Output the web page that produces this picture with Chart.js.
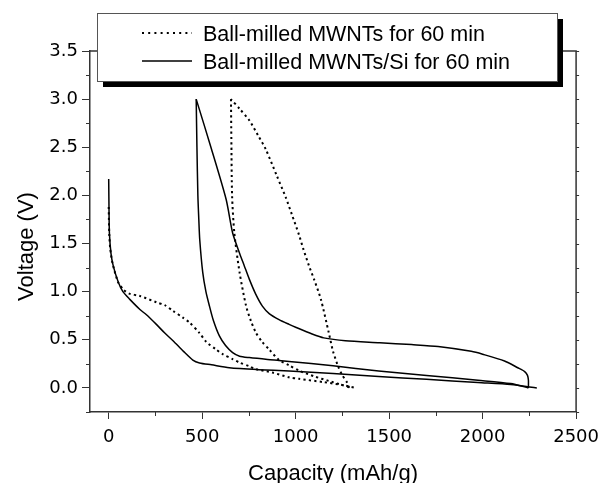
<!DOCTYPE html>
<html>
<head>
<meta charset="utf-8">
<script src="https://cdn.jsdelivr.net/npm/chart.js@4.4.1/dist/chart.umd.min.js"></script>
<style>
  html, body { margin: 0; padding: 0; background: #fff; }
</style>
</head>
<body>
<canvas id="voltChart" width="607" height="483"></canvas>
<script>
// series names
const seriesLabels = ['Ball-milled MWNTs for 60 min', 'Ball-milled MWNTs/Si for 60 min'];

// Ball-milled MWNTs (dotted) - first discharge
const cntDis1Cap = [0, 3, 8, 20, 50, 80, 110, 167, 255, 300, 344, 397, 432, 486, 521, 574, 610, 663, 698, 752, 787, 876, 965, 1018, 1150, 1250, 1319];
const cntDis1V = [1.88, 1.6, 1.45, 1.3, 1.1, 1.02, 0.98, 0.955, 0.89, 0.86, 0.8, 0.73, 0.68, 0.57, 0.48, 0.4, 0.35, 0.3, 0.265, 0.225, 0.195, 0.16, 0.11, 0.095, 0.06, 0.03, 0.0];
// charge
const cntChgCap = [1285, 1275, 1250, 1230, 1200, 1177, 1135, 1100, 1071, 1040, 1018, 980, 947, 900, 840, 800, 752, 700, 654];
const cntChgV = [0.0, 0.056, 0.13, 0.21, 0.38, 0.575, 0.92, 1.12, 1.27, 1.45, 1.59, 1.8, 1.98, 2.2, 2.48, 2.62, 2.78, 2.9, 3.0];
// second discharge
const cntDis2Cap = [654, 656, 660, 672, 700, 735, 760, 787, 820, 858, 911, 965, 1018, 1100, 1177, 1250, 1300];
const cntDis2V = [3.0, 2.6, 2.0, 1.61, 1.2, 0.85, 0.7, 0.575, 0.48, 0.4, 0.29, 0.235, 0.18, 0.12, 0.073, 0.03, 0.0];

// Ball-milled MWNTs/Si (solid) - first discharge
const siDis1Cap = [0, 2, 4, 12, 24, 51, 76, 113, 167, 202, 255, 300, 344, 400, 450, 486, 550, 645, 800, 965, 1200, 1444, 1700, 1975, 2150, 2290];
const siDis1V = [2.17, 1.8, 1.6, 1.4, 1.27, 1.1, 1.0, 0.92, 0.815, 0.76, 0.66, 0.57, 0.49, 0.38, 0.29, 0.26, 0.24, 0.21, 0.19, 0.176, 0.15, 0.118, 0.09, 0.056, 0.035, 0.0];
// charge
const siChgCap = [2245, 2245, 2240, 2225, 2188, 2117, 2000, 1939, 1762, 1620, 1450, 1266, 1150, 1088, 1000, 965, 911, 860, 822, 785, 752, 725, 700, 663, 628, 550, 468];
const siChgV = [0.0, 0.08, 0.13, 0.17, 0.21, 0.28, 0.35, 0.38, 0.43, 0.45, 0.47, 0.49, 0.52, 0.56, 0.63, 0.66, 0.71, 0.77, 0.85, 0.98, 1.13, 1.27, 1.4, 1.61, 1.96, 2.48, 3.0];
// second discharge
const siDis2Cap = [468, 472, 477, 482, 487, 503, 520, 539, 560, 592, 625, 663, 700, 752, 850, 911, 965, 1200, 1444, 1700, 1975, 2150, 2245];
const siDis2V = [3.0, 2.5, 2.0, 1.75, 1.54, 1.2, 1.0, 0.85, 0.7, 0.54, 0.44, 0.367, 0.33, 0.315, 0.295, 0.285, 0.275, 0.23, 0.176, 0.13, 0.08, 0.045, 0.0];

// ticks
const xMajor = [0, 500, 1000, 1500, 2000, 2500];
const xMinor = [250, 750, 1250, 1750, 2250];
const yMajor = [0, 0.5, 1.0, 1.5, 2.0, 2.5, 3.0, 3.5];
const yMinor = [-0.25, 0.25, 0.75, 1.25, 1.75, 2.25, 2.75, 3.25];

const axisColor = '#333';
const dotDash = [2.2, 3.2];
const tickFont = { family: 'DejaVu Sans', size: 18 };

function pts(caps, volts) {
    return caps.map((c, i) => ({ x: c, y: volts[i] }));
}

function curve(label, caps, volts, dotted) {
    return {
        label: label,
        data: pts(caps, volts),
        showLine: true,
        borderColor: '#000',
        borderWidth: dotted ? 2 : 1.5,
        borderDash: dotted ? dotDash : [],
        borderCapStyle: 'butt',
        pointRadius: 0,
        fill: false,
        tension: 0.25
    };
}

// top/right frame, minor ticks, axis titles
const framePlugin = {
    id: 'framePlugin',
    afterDraw(chart) {
        const { ctx, chartArea: a, scales: { x, y } } = chart;
        ctx.save();
        ctx.strokeStyle = axisColor;
        ctx.lineWidth = 1.5;
        ctx.beginPath();
        ctx.moveTo(a.left, a.top);
        ctx.lineTo(a.right, a.top);
        ctx.lineTo(a.right, a.bottom);
        ctx.stroke();

        ctx.lineWidth = 1;
        ctx.beginPath();
        xMinor.forEach(v => {
            const px = Math.round(x.getPixelForValue(v)) + 0.5;
            ctx.moveTo(px, a.bottom);
            ctx.lineTo(px, a.bottom + 4);
        });
        yMinor.forEach(v => {
            const py = Math.round(y.getPixelForValue(v)) + 0.5;
            ctx.moveTo(a.left, py);
            ctx.lineTo(a.left - 4, py);
        });
        yMajor.concat(yMinor).forEach(v => {
            const py = Math.round(y.getPixelForValue(v)) + 0.5;
            ctx.moveTo(a.right, py);
            ctx.lineTo(a.right + 3, py);
        });
        ctx.stroke();

        // axis titles
        ctx.fillStyle = '#000';
        ctx.font = '22px "Liberation Sans", Arial, sans-serif';
        ctx.textAlign = 'center';
        ctx.textBaseline = 'alphabetic';
        ctx.fillText('Capacity (mAh/g)', (a.left + a.right) / 2, 480);
        ctx.translate(33, 246.5);
        ctx.rotate(-Math.PI / 2);
        ctx.fillText('Voltage (V)', 0, 0);
        ctx.restore();
    }
};

// boxed legend with drop shadow
const legendPlugin = {
    id: 'legendPlugin',
    afterDraw(chart) {
        const ctx = chart.ctx;
        const bx = 97, by = 13, bw = 460, bh = 68;
        ctx.save();
        ctx.fillStyle = '#000';
        ctx.fillRect(bx + 6, by + 6, bw, bh);
        ctx.fillStyle = '#fff';
        ctx.fillRect(bx, by, bw, bh);
        ctx.strokeStyle = '#555';
        ctx.lineWidth = 1;
        ctx.strokeRect(bx + 0.5, by + 0.5, bw, bh);

        const rows = [33, 61];
        ctx.strokeStyle = '#000';
        ctx.font = '21.5px "Liberation Sans", Arial, sans-serif';
        ctx.fillStyle = '#000';
        ctx.textBaseline = 'alphabetic';
        ctx.textAlign = 'left';
        seriesLabels.forEach((lbl, i) => {
            ctx.beginPath();
            ctx.lineWidth = i === 0 ? 2 : 1.5;
            ctx.setLineDash(i === 0 ? [2, 4.2] : []);
            ctx.moveTo(142, rows[i]);
            ctx.lineTo(192, rows[i]);
            ctx.stroke();
            ctx.fillText(lbl, 203, rows[i] + 7.5);
        });
        ctx.restore();
    }
};

new Chart(document.getElementById('voltChart'), {
    type: 'scatter',
    data: {
        datasets: [
            curve(seriesLabels[0], cntDis1Cap, cntDis1V, true),
            curve(seriesLabels[0], cntChgCap, cntChgV, true),
            curve(seriesLabels[0], cntDis2Cap, cntDis2V, true),
            curve(seriesLabels[1], siDis1Cap, siDis1V, false),
            curve(seriesLabels[1], siChgCap, siChgV, false),
            curve(seriesLabels[1], siDis2Cap, siDis2V, false)
        ]
    },
    options: {
        responsive: false,
        animation: false,
        events: [],
        layout: { padding: { top: 51, right: 27, left: 0, bottom: 0 } },
        plugins: {
            legend: { display: false },
            tooltip: { enabled: false }
        },
        scales: {
            x: {
                type: 'linear',
                min: -100,
                max: 2500,
                afterBuildTicks: s => { s.ticks = xMajor.map(v => ({ value: v })); },
                afterFit: s => { s.height = 71; },
                ticks: {
                    font: tickFont,
                    color: '#000',
                    padding: 8,
                    maxRotation: 0,
                    autoSkip: false,
                    callback: v => String(v)
                },
                grid: {
                    display: true,
                    drawOnChartArea: false,
                    drawTicks: true,
                    tickLength: 7,
                    tickColor: axisColor,
                    tickWidth: 1
                },
                border: { display: true, color: axisColor, width: 1.5 }
            },
            y: {
                type: 'linear',
                min: -0.25,
                max: 3.5,
                afterBuildTicks: s => { s.ticks = yMajor.map(v => ({ value: v })); },
                afterFit: s => { s.width = 90; },
                ticks: {
                    font: tickFont,
                    color: '#000',
                    padding: 4,
                    autoSkip: false,
                    callback: v => v.toFixed(1)
                },
                grid: {
                    display: true,
                    drawOnChartArea: false,
                    drawTicks: true,
                    tickLength: 8,
                    tickColor: axisColor,
                    tickWidth: 1
                },
                border: { display: true, color: axisColor, width: 1.5 }
            }
        }
    },
    plugins: [framePlugin, legendPlugin]
});
</script>
</body>
</html>
